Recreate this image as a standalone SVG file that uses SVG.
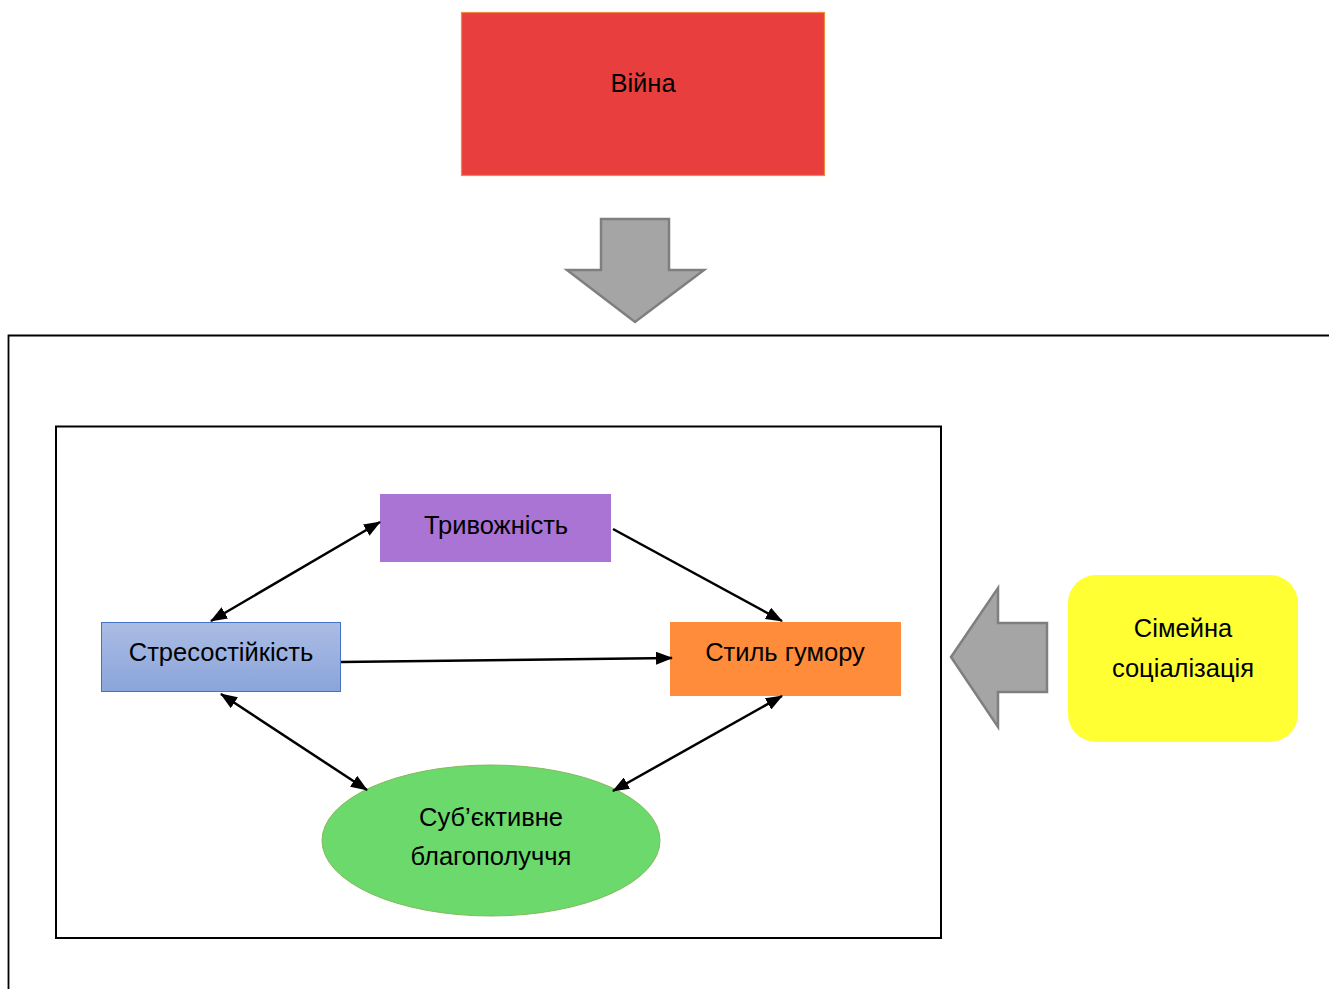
<svg xmlns="http://www.w3.org/2000/svg" width="1329" height="989" viewBox="0 0 1329 989">
<style>
text{font-family:"Liberation Sans","Open Sans",Arial,sans-serif;font-size:25.5px;fill:#000;text-anchor:middle;dominant-baseline:central}
.conn{stroke:#000;stroke-width:2.5;fill:none}
.big{fill:#a5a5a5;stroke:#7f7f7f;stroke-width:2.5;stroke-linejoin:miter}
</style>
<defs>
<marker id="ah" viewBox="0 0 17 13" refX="16" refY="6.5" markerWidth="17" markerHeight="13" markerUnits="userSpaceOnUse" orient="auto-start-reverse">
<path d="M0,0 L17,6.5 L0,13 z" fill="#000"/>
</marker>
<linearGradient id="gBlue" x1="0" y1="0" x2="0" y2="1">
<stop offset="0" stop-color="#abbce4"/>
<stop offset="1" stop-color="#8aa5da"/>
</linearGradient>
</defs>
<rect width="1329" height="989" fill="#fff"/>
<g id="war">
<rect x="461.5" y="12.5" width="363" height="163" fill="#e83e3e" stroke="#f08a3c" stroke-width="1.2"/>
<text x="643" y="83">Війна</text>
</g>
<g id="down-arrow">
<path class="big" d="M601,219 L669,219 L669,270 L704,270 L635,322 L567,270 L601,270 Z"/>
</g>
<g id="outer-frame">
<path d="M1329,335.5 L8.5,335.5 L8.5,989" fill="none" stroke="#000" stroke-width="1.8"/>
</g>
<g id="inner-frame">
<rect x="56" y="426.5" width="885" height="511.5" fill="none" stroke="#000" stroke-width="2"/>
</g>
<g id="anxiety">
<rect x="380" y="494" width="231" height="68" fill="#a974d4"/>
<text x="496" y="525">Тривожність</text>
</g>
<g id="stress">
<rect x="101.5" y="622.5" width="239" height="69" fill="url(#gBlue)" stroke="#4472c4" stroke-width="1"/>
<text x="221" y="652">Стресостійкість</text>
</g>
<g id="humor">
<rect x="670" y="622" width="231" height="74" fill="#ff8c3a"/>
<text x="785" y="652">Стиль гумору</text>
</g>
<g id="wellbeing">
<ellipse cx="491" cy="840.5" rx="169" ry="75.5" fill="#6bd96b" stroke="#84b95a" stroke-width="1"/>
<text x="491" y="817">Суб’єктивне</text>
<text x="491" y="856">благополуччя</text>
</g>
<g id="left-arrow">
<path class="big" d="M1047,623 L998,623 L998,588 L951,657 L998,727 L998,692 L1047,692 Z"/>
</g>
<g id="family">
<rect x="1068" y="575" width="230" height="167" rx="28" ry="28" fill="#ffff33"/>
<text x="1183" y="628">Сімейна</text>
<text x="1183" y="668">соціалізація</text>
</g>
<g id="connectors">
<line class="conn" x1="380" y1="522" x2="211" y2="621" marker-start="url(#ah)" marker-end="url(#ah)"/>
<line class="conn" x1="613" y1="529" x2="782" y2="621" marker-end="url(#ah)"/>
<line class="conn" x1="341" y1="662" x2="672" y2="658" marker-end="url(#ah)"/>
<line class="conn" x1="221" y1="694" x2="367" y2="790" marker-start="url(#ah)" marker-end="url(#ah)"/>
<line class="conn" x1="782" y1="696" x2="613" y2="791" marker-start="url(#ah)" marker-end="url(#ah)"/>
</g>
</svg>
